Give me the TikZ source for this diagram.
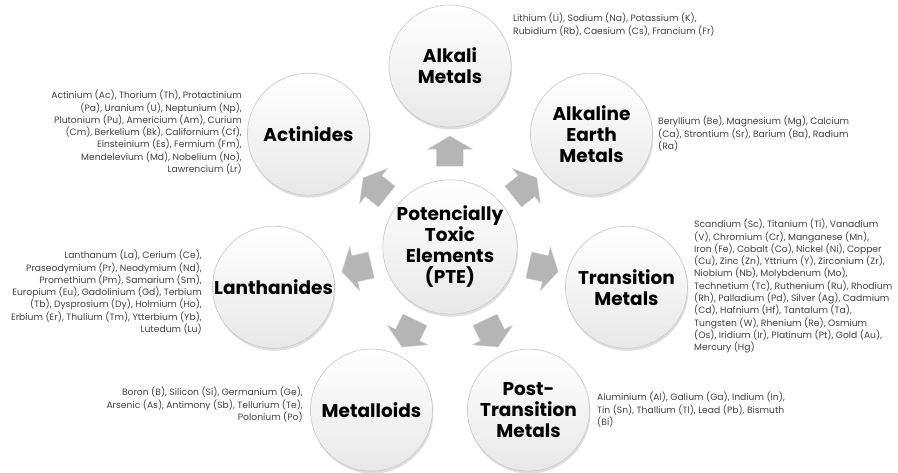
\documentclass[tikz,border=0pt]{standalone}
\usepackage{fontspec}
\setmainfont{Poppins}
\usetikzlibrary{shapes.arrows,shadows}
\definecolor{txt}{HTML}{404040}
\begin{document}
\begin{tikzpicture}[x=1pt,y=1pt,
  ball/.style={circle, minimum size=122pt, inner sep=0pt, draw=gray!40, line width=0.7pt,
    top color=white, bottom color=gray!18,
    drop shadow={opacity=0.25, shadow xshift=1pt, shadow yshift=-2.5pt},
    font=\fontsize{18.5}{21}\selectfont\bfseries, align=center, text=black},
  hub/.style={ball, minimum size=134pt},
  pointer/.style={single arrow, inner xsep=0pt, inner ysep=13pt, minimum height=30pt,
    single arrow head extend=9pt, single arrow tip angle=119,
    draw=gray!42, line width=0.5pt, fill=gray!58},
  info/.style={inner sep=0pt, font=\fontsize{9.2}{12.3}\selectfont, text=txt}
]
\useasboundingbox (-450,-226) rectangle (448,247);
\clip (-450,-226) rectangle (448,247);

% central hub and the seven groups around it
\node[hub] (pte) at (0,0) {Potencially\\Toxic\\Elements\\(PTE)};
\node[ball] (alk)  at (90:181)      {Alkali\\Metals};
\node[ball] (ear)  at (38.57:181)   {Alkaline\\Earth\\Metals};
\node[ball] (tra)  at (-12.86:181)  {Transition\\Metals};
\node[ball] (post) at (-64.29:181)  {Post-\\Transition\\Metals};
\node[ball] (mtl)  at (-115.71:181) {Metalloids};
\node[ball] (lan)  at (-167.14:181) {Lanthanides};
\node[ball] (act)  at (141.43:181)  {Actinides};

% outward pointers
\foreach \a/\n in {90/p1,38.57/p2,-12.86/p3,-64.29/p4,-115.71/p5,-167.14/p6,141.43/p7}
  \node[pointer, rotate=\a] (\n) at (\a:92) {};

% element lists
\node[info, anchor=north west, align=left] (alkt) at (63,234)
  {Lithium (Li), Sodium (Na), Potassium (K),\\Rubidium (Rb), Caesium (Cs), Francium (Fr)};
\node[info, anchor=north west, align=left] (eart) at (208,131)
  {Beryllium (Be), Magnesium (Mg), Calcium\\(Ca), Strontium (Sr), Barium (Ba), Radium\\(Ra)};
\node[info, anchor=north west, align=left] (trat) at (244,28)
  {Scandium (Sc), Titanium (Ti), Vanadium\\
   (V), Chromium (Cr), Manganese (Mn),\\
   Iron (Fe), Cobalt (Co), Nickel (Ni), Copper\\
   (Cu), Zinc (Zn), Yttrium (Y), Zirconium (Zr),\\
   Niobium (Nb), Molybdenum (Mo),\\
   Technetium (Tc), Ruthenium (Ru), Rhodium\\
   (Rh), Palladium (Pd), Silver (Ag), Cadmium\\
   (Cd), Hafnium (Hf), Tantalum (Ta),\\
   Tungsten (W), Rhenium (Re), Osmium\\
   (Os), Iridium (Ir), Platinum (Pt), Gold (Au),\\
   Mercury (Hg)};
\node[info, anchor=north west, align=left] (postt) at (147,-145)
  {Aluminium (Al), Galium (Ga), Indium (In),\\Tin (Sn), Thallium (Tl), Lead (Pb), Bismuth\\(Bi)};
\node[info, anchor=north east, align=right] (mtlt) at (-147,-140)
  {Boron (B), Silicon (Si), Germanium (Ge),\\Arsenic (As), Antimony (Sb), Tellurium (Te),\\Polonium (Po)};
\node[info, anchor=north east, align=right] (lant) at (-248,-3)
  {Lanthanum (La), Cerium (Ce),\\
   Praseodymium (Pr), Neodymium (Nd),\\
   Promethium (Pm), Samarium (Sm),\\
   Europium (Eu), Gadolinium (Gd), Terbium\\
   (Tb), Dysprosium (Dy), Holmium (Ho),\\
   Erbium (Er), Thulium (Tm), Ytterbium (Yb),\\
   Lutedum (Lu)};
\node[info, anchor=north east, align=right] (actt) at (-208,157)
  {Actinium (Ac), Thorium (Th), Protactinium\\
   (Pa), Uranium (U), Neptunium (Np),\\
   Plutonium (Pu), Americium (Am), Curium\\
   (Cm), Berkelium (Bk), Californium (Cf),\\
   Einsteinium (Es), Fermium (Fm),\\
   Mendelevium (Md), Nobelium (No),\\
   Lawrencium (Lr)};
\end{tikzpicture}
\end{document}
